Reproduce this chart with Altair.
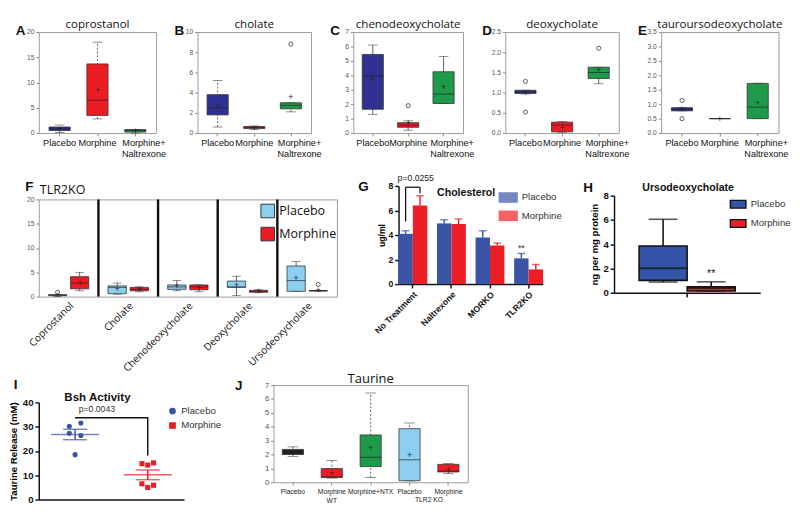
import altair as alt
import pandas as pd

FONT = "Arial"
TFONT = "Open Sans"

# ---------------- Panels A-E ----------------
AE_GROUPS = ["Placebo", "Morphine", "Morphine+\nNaltrexone"]
AE_COLORS = ["#2e3192", "#ed1c24", "#1e9a4a"]

A_Q1 = [0.5, 3.5, 0.2]
A_MED = [0.8, 6.5, 0.5]
A_Q3 = [1.2, 13.7, 0.7]
A_LO = [0.1, 2.8, 0.0]
A_HI = [1.6, 18.0, 0.7]
A_MEAN = [0.8, 8.5, 0.4]
A_OUT_GROUP = []
A_OUT_VALUE = []
A_TICKS = [0, 5, 10, 15, 20]

B_Q1 = [1.8, 0.45, 2.4]
B_MED = [2.5, 0.55, 2.75]
B_Q3 = [3.8, 0.65, 3.0]
B_LO = [0.6, 0.35, 2.1]
B_HI = [5.2, 0.7, 3.0]
B_MEAN = [2.7, 0.5, 3.6]
B_OUT_GROUP = ["Morphine+\nNaltrexone"]
B_OUT_VALUE = [8.8]
B_TICKS = [0, 2, 4, 6, 8, 10]

C_Q1 = [1.65, 0.4, 2.05]
C_MED = [3.95, 0.55, 2.7]
C_Q3 = [5.45, 0.72, 4.25]
C_LO = [1.3, 0.2, 2.05]
C_HI = [6.1, 0.85, 5.3]
C_MEAN = [3.75, 0.7, 3.2]
C_OUT_GROUP = ["Morphine"]
C_OUT_VALUE = [1.9]
C_TICKS = [0, 1, 2, 3, 4, 5, 6, 7]

D_Q1 = [0.98, 0.03, 1.35]
D_MED = [1.02, 0.2, 1.5]
D_Q3 = [1.06, 0.27, 1.63]
D_LO = [0.97, 0.02, 1.22]
D_HI = [1.06, 0.29, 1.63]
D_MEAN = [1.0, 0.13, 1.55]
D_OUT_GROUP = ["Placebo", "Placebo", "Morphine+\nNaltrexone"]
D_OUT_VALUE = [1.28, 0.52, 2.1]
D_TICKS = [0, 0.5, 1.0, 1.5, 2.0, 2.5]

E_Q1 = [0.77, 0.5, 0.5]
E_MED = [0.82, 0.5, 0.9]
E_Q3 = [0.88, 0.5, 1.72]
E_LO = [0.77, 0.5, 0.5]
E_HI = [0.88, 0.5, 1.73]
E_MEAN = [0.82, 0.5, 1.05]
E_OUT_GROUP = ["Placebo", "Placebo"]
E_OUT_VALUE = [1.13, 0.5]
E_TICKS = [0, 0.5, 1.0, 1.5, 2.0, 2.5, 3.0, 3.5]

# ---------------- Panel F ----------------
F_CATS = ["Coprostanol", "Cholate", "Chenodeoxycholate", "Deoxycholate", "Ursodeoxycholate"]
F_TRT = ["Placebo", "Morphine"]
F_COLORS = ["#8dcff0", "#ed1c24"]
# order: for each category -> Placebo, Morphine
F_Q1 = [0.2, 1.6, 0.6, 1.2, 1.5, 1.4, 1.9, 0.9, 1.1, 1.15]
F_MED = [0.3, 2.8, 1.9, 1.5, 2.0, 2.0, 2.0, 1.1, 3.3, 1.2]
F_Q3 = [0.4, 4.1, 2.2, 1.9, 2.4, 2.4, 3.2, 1.3, 6.3, 1.25]
F_LO = [0.0, 1.2, 0.5, 1.0, 1.2, 1.0, 0.2, 0.8, 1.1, 1.15]
F_HI = [0.4, 5.0, 2.8, 2.0, 3.3, 2.4, 4.2, 1.4, 7.2, 1.25]
F_MEAN = [0.3, 2.8, 1.6, 1.5, 2.1, 1.7, 2.3, 1.1, 3.8, 1.3]
F_OUT_CAT = ["Coprostanol", "Ursodeoxycholate"]
F_OUT_TRT = ["Placebo", "Morphine"]
F_OUT_VALUE = [0.9, 2.5]
F_TICKS = [0, 5, 10, 15, 20]

# ---------------- Panel G ----------------
G_CATS = ["No Treatment", "Naltrexone", "MORKO", "TLR2KO"]
G_TRT = ["Placebo", "Morphine"]
G_COLORS = ["#3a55a5", "#ec1f26"]
G_PLACEBO = [4.1, 4.95, 3.8, 2.1]
G_PLACEBO_ERR = [0.25, 0.3, 0.55, 0.4]
G_MORPHINE = [6.4, 4.9, 3.15, 1.2]
G_MORPHINE_ERR = [0.8, 0.4, 0.2, 0.4]
G_BRACKET_CAT = "No Treatment"
G_BRACKET_LEFT = [5.1, 7.9]
G_BRACKET_RIGHT = [7.4, 7.9]
G_P_TEXT = "p=0.0255"
G_P_Y = 8.0
G_STAR_CAT = "TLR2KO"
G_STAR_Y = 2.55
G_TICKS = [0, 2, 4, 6, 8]

# ---------------- Panel H ----------------
H_TRT = ["Placebo", "Morphine"]
H_COLORS = ["#3455a7", "#e8202a"]
H_Q1 = [1.02, 0.15]
H_MED = [2.02, 0.4]
H_Q3 = [3.85, 0.5]
H_LO = [0.88, 0.15]
H_HI = [6.05, 0.9]
H_STAR_Y = 1.1
H_TICKS = [0, 2, 4, 6, 8]

# ---------------- Panel I ----------------
I_GROUPS = ["Placebo", "Morphine"]
I_COLORS = ["#3a53a4", "#ed1c24"]
I_PLACEBO_VALUES = [31.5, 30.2, 27.3, 26.4, 18.5]
I_PLACEBO_COLS = ["R", "L", "L", "R", "C"]
I_MORPHINE_VALUES = [15.1, 14.8, 14.2, 6.5, 5.9, 5.0]
I_MORPHINE_COLS = ["R", "L", "C", "L", "R", "C"]
I_MEAN = [26.8, 10.2]
I_SEM = [2.15, 2.0]
I_BRACKET_GROUP = ["Placebo", "Morphine", "Morphine"]
I_BRACKET_Y = [33.7, 33.7, 18.2]
I_P_TEXT = "p=0.0043"
I_P_Y = 37.2
I_TICKS = [0, 10, 20, 30, 40]

# ---------------- Panel J ----------------
J_GROUPS = ["Placebo WT", "Morphine WT", "Morphine+NTX", "Placebo KO", "Morphine KO"]
J_LABELS = ["Placebo", "Morphine\nWT", "Morphine+NTX", "Placebo", "Morphine"]
J_COLORS = ["#231f20", "#ed1c24", "#1e9a4a", "#8dcff0", "#ed1c24"]
J_Q1 = [2.0, 0.34, 1.13, 0.11, 0.74]
J_MED = [2.2, 0.4, 1.8, 1.62, 0.8]
J_Q3 = [2.37, 0.99, 3.41, 3.86, 1.29]
J_LO = [1.87, 0.3, 0.34, 0.1, 0.62]
J_HI = [2.55, 1.56, 6.43, 4.27, 1.35]
J_MEAN = [2.2, 0.65, 2.48, 1.96, 0.9]
J_GROUP_NOTE = "TLR2 KO"
J_TICKS = [0, 1, 2, 3, 4, 5, 6, 7]

# ---------------- styling (not data) ----------------
NO_STROKE = alt.ViewBackground(stroke="transparent")
AE_H = 105


def text_layer(txt, dx, dy, size=14, weight="bold", font=FONT, align="left", baseline="top",
               color="#111"):
    return alt.Chart(pd.DataFrame({"t": [txt]})).mark_text(
        font=font, fontSize=size, fontWeight=weight, align=align, baseline=baseline, color=color
    ).encode(text="t:N", x=alt.value(dx), y=alt.value(dy))


def box_layers(df, odf, x, off, color, y_scale, y_axis, box_w, cap_w, dash=None,
               line_color="#333", line_w=0.8, med_color="#222", med_w=1.0,
               plus=True, plus_size=9, out_size=18):
    def e(**kw):
        d = {"x": x}
        if off is not None:
            d["xOffset"] = off
        d.update(kw)
        return d

    def Y(f):
        return alt.Y(f, scale=y_scale, axis=y_axis)

    rk = dict(color=line_color, strokeWidth=line_w)
    if dash:
        rk["strokeDash"] = dash
    base = alt.Chart(df)
    layers = [
        base.mark_rule(**rk).encode(**e(y=Y("lo:Q"), y2="hi:Q")),
        base.mark_tick(color=line_color, size=cap_w, thickness=line_w).encode(**e(y=Y("hi:Q"))),
        base.mark_tick(color=line_color, size=cap_w, thickness=line_w).encode(**e(y=Y("lo:Q"))),
        base.mark_bar(size=box_w, stroke=line_color, strokeWidth=line_w).encode(
            **e(y=Y("q1:Q"), y2="q3:Q", color=color)),
        base.mark_tick(color=med_color, size=box_w, thickness=med_w).encode(**e(y=Y("med:Q"))),
    ]
    if plus:
        layers.append(base.mark_text(text="+", fontSize=plus_size, color="#222", baseline="middle",
                                     font=FONT).encode(**e(y=Y("mean:Q"))))
    if odf is not None and len(odf):
        layers.append(alt.Chart(odf).mark_point(shape="circle", filled=False, color=line_color,
                                                size=out_size, strokeWidth=line_w, opacity=1
                                                ).encode(**e(y=Y("v:Q"))))
    return layers


def ae_panel(letter, title, q1, med, q3, lo, hi, mean, out_g, out_v, ticks, fmt, width, dash):
    df = pd.DataFrame({"cat": AE_GROUPS, "q1": q1, "med": med, "q3": q3,
                       "lo": lo, "hi": hi, "mean": mean})
    odf = pd.DataFrame({"cat": out_g, "v": out_v})
    x = alt.X("cat:N", sort=AE_GROUPS, scale=alt.Scale(paddingInner=0, paddingOuter=0.05),
              axis=alt.Axis(title=None, labelAngle=0, labelExpr="split(datum.label, '\\n')",
                            labelFontSize=9.5, labelColor="#111", labelFont=FONT, tickSize=3,
                            tickColor="#888", domain=False, labelPadding=2, labelLineHeight=11,
                            labelOffset={"condition": {"test": "indexof(datum.value, 'Naltrexone') >= 0",
                                                       "value": 9}, "value": 0}))
    ys = alt.Scale(domain=[ticks[0], ticks[-1]], nice=False)
    ya = alt.Axis(title=None, values=ticks, format=fmt, labelFontSize=7, labelColor="#555",
                  tickSize=3, tickColor="#888", domain=False, grid=False, labelOverlap=False)
    color = alt.Color("cat:N", sort=AE_GROUPS, scale=alt.Scale(domain=AE_GROUPS, range=AE_COLORS),
                      legend=None)
    layers = box_layers(df, odf, x, None, color, ys, ya, box_w=22, cap_w=10, dash=dash)
    layers.append(text_layer(letter, -24, -8))
    layers.append(text_layer(title, width / 2, -4, size=12, weight="normal", font=TFONT,
                             align="center", baseline="alphabetic"))
    return alt.layer(*layers).properties(width=width, height=AE_H)


pA = ae_panel("A", "coprostanol", A_Q1, A_MED, A_Q3, A_LO, A_HI, A_MEAN, A_OUT_GROUP, A_OUT_VALUE,
              A_TICKS, "d", 122, [2, 2])
pB = ae_panel("B", "cholate", B_Q1, B_MED, B_Q3, B_LO, B_HI, B_MEAN, B_OUT_GROUP, B_OUT_VALUE,
              B_TICKS, "d", 118, [2, 2])
pC = ae_panel("C", "chenodeoxycholate", C_Q1, C_MED, C_Q3, C_LO, C_HI, C_MEAN, C_OUT_GROUP,
              C_OUT_VALUE, C_TICKS, "d", 114, None)
pD = ae_panel("D", "deoxycholate", D_Q1, D_MED, D_Q3, D_LO, D_HI, D_MEAN, D_OUT_GROUP, D_OUT_VALUE,
              D_TICKS, ".1f", 118, None)
pE = ae_panel("E", "tauroursodeoxycholate", E_Q1, E_MED, E_Q3, E_LO, E_HI, E_MEAN, E_OUT_GROUP,
              E_OUT_VALUE, E_TICKS, ".1f", 122, None)

# ---------------- F ----------------
f_df = pd.DataFrame({"cat": [c for c in F_CATS for _ in F_TRT], "trt": F_TRT * len(F_CATS),
                     "q1": F_Q1, "med": F_MED, "q3": F_Q3, "lo": F_LO, "hi": F_HI, "mean": F_MEAN})
f_odf = pd.DataFrame({"cat": F_OUT_CAT, "trt": F_OUT_TRT, "v": F_OUT_VALUE})


def f_x(bp=None):
    kw = dict(sort=F_CATS, scale=alt.Scale(paddingInner=0, paddingOuter=0),
              axis=alt.Axis(title=None, labelAngle=-45, labelFontSize=10.5, labelFont=TFONT,
                            labelColor="#111", ticks=False, domain=False, labelPadding=4))
    if bp is not None:
        kw["bandPosition"] = bp
    return alt.X("cat:N", **kw)


f_off = alt.XOffset("trt:N", sort=F_TRT, scale=alt.Scale(paddingInner=0, paddingOuter=0.35))
f_color = alt.Color("trt:N", sort=F_TRT, scale=alt.Scale(domain=F_TRT, range=F_COLORS),
                    legend=alt.Legend(title=None, orient="none", legendX=230, legendY=4,
                                      symbolType="square", symbolSize=200, symbolStrokeColor="#333",
                                      symbolStrokeWidth=1, labelFontSize=13, labelFont=TFONT,
                                      labelColor="#111", rowPadding=4))
f_ys = alt.Scale(domain=[0, 20], nice=False)
f_ya = alt.Axis(title=None, values=F_TICKS, labelFontSize=7, labelColor="#555", tickSize=3,
                tickColor="#888", domain=False, grid=False, labelOverlap=False)
f_layers = box_layers(f_df, f_odf, f_x(), f_off, f_color, f_ys, f_ya, box_w=19, cap_w=9)
f_sep = alt.Chart(pd.DataFrame({"cat": F_CATS[1:]})).mark_rule(color="#111", strokeWidth=2.5).encode(
    x=f_x(0))
pF = alt.layer(f_sep, *f_layers, text_layer("F", -14, -20),
               text_layer("TLR2KO", 1, -6, size=13, weight="normal", font=TFONT,
                          baseline="alphabetic")).properties(width=310, height=101)

# ---------------- G ----------------
# the plot band of G sits 14px higher than F's (scale range reaches above the view origin)
G_TOP = -14
G_H = 88
g_df = pd.DataFrame({"cat": G_CATS * 2, "trt": ["Placebo"] * 4 + ["Morphine"] * 4,
                     "val": G_PLACEBO + G_MORPHINE, "err": G_PLACEBO_ERR + G_MORPHINE_ERR})
g_df["top"] = g_df["val"] + g_df["err"]

G_BAR_W = 15
G_SHIFT = [-7.5, 7.5]  # pixel shift of the Placebo / Morphine bar inside a group

g_xaxis = alt.Axis(title=None, labelAngle=-45, labelFontWeight="bold", labelFontSize=9,
                   labelColor="#111", domainColor="#111", domainWidth=1.5,
                   tickColor="#111", tickWidth=1.5, tickSize=4)
g_xscale = alt.Scale(paddingInner=0.26, paddingOuter=0)


def g_x():
    return alt.X("cat:N", sort=G_CATS, scale=g_xscale, axis=g_xaxis)


g_yaxis = alt.Axis(values=G_TICKS, title="ug/ml", titleFontSize=9, titleFontWeight="bold",
                   labelFontWeight="bold", labelFontSize=9, labelColor="#111", grid=False,
                   domainColor="#111", domainWidth=1.5, tickColor="#111", tickWidth=1.5,
                   tickSize=4, titlePadding=2, labelOverlap=False)
g_yscale = alt.Scale(domain=[0, 8], nice=False, range=[G_H, G_TOP])


def g_y(f):
    return alt.Y(f, scale=g_yscale, axis=g_yaxis)


g_color = alt.Color("trt:N", sort=G_TRT, scale=alt.Scale(domain=G_TRT, range=G_COLORS),
                    legend=alt.Legend(title=None, orient="none", legendX=104, legendY=G_TOP + 2,
                                      symbolType="M-1,-0.55H1V0.55H-1Z", symbolSize=400,
                                      symbolStrokeWidth=0, labelFontSize=10, labelColor="#333",
                                      rowPadding=3))
g_layers = []
for t, s in zip(G_TRT, G_SHIFT):
    src = alt.Chart(g_df).transform_filter(alt.datum.trt == t)
    g_layers += [
        src.mark_bar(size=G_BAR_W, xOffset=s).encode(x=g_x(), y=g_y("val:Q"), color=g_color),
        src.mark_rule(strokeWidth=1.5, xOffset=s).encode(x=g_x(), y=g_y("val:Q"), y2="top:Q",
                                                         color=g_color),
        src.mark_tick(size=8, thickness=1.5, xOffset=s).encode(x=g_x(), y=g_y("top:Q"),
                                                               color=g_color),
    ]
g_brdf = pd.DataFrame({"cat": [G_BRACKET_CAT], "l0": [G_BRACKET_LEFT[0]], "l1": [G_BRACKET_LEFT[1]],
                       "r0": [G_BRACKET_RIGHT[0]], "r1": [G_BRACKET_RIGHT[1]]})
g_br_l = alt.Chart(g_brdf).mark_rule(color="#111", strokeWidth=1.3, xOffset=G_SHIFT[0]).encode(
    x=g_x(), y=g_y("l0:Q"), y2="l1:Q")
g_br_r = alt.Chart(g_brdf).mark_rule(color="#111", strokeWidth=1.3, xOffset=G_SHIFT[1]).encode(
    x=g_x(), y=g_y("r0:Q"), y2="r1:Q")
g_br_h = alt.Chart(g_brdf).mark_rule(color="#111", strokeWidth=1.3, xOffset=G_SHIFT[0],
                                     x2Offset=G_SHIFT[1]).encode(
    x=g_x(), x2=alt.X2("cat:N"), y=g_y("l1:Q"))
g_p = alt.Chart(pd.DataFrame({"cat": [G_BRACKET_CAT], "y": [G_P_Y], "t": [G_P_TEXT]})).mark_text(
    fontSize=9, baseline="bottom", dy=-3, dx=3, color="#222").encode(x=g_x(), y=g_y("y:Q"), text="t:N")
g_star = alt.Chart(pd.DataFrame({"cat": [G_STAR_CAT], "y": [G_STAR_Y], "t": ["**"]})).mark_text(
    fontSize=9, baseline="bottom", color="#222", dx=G_SHIFT[0]).encode(x=g_x(), y=g_y("y:Q"),
                                                                       text="t:N")
pG = alt.layer(*g_layers, g_br_l, g_br_r, g_br_h, g_p, g_star,
               text_layer("Cholesterol", 40, G_TOP + 1, size=11),
               text_layer("G", -42, G_TOP - 6)).properties(width=150, height=G_H, view=NO_STROKE)

# ---------------- H ----------------
H_TOP = -4
H_H = 97
h_df = pd.DataFrame({"trt": H_TRT, "q1": H_Q1, "med": H_MED, "q3": H_Q3, "lo": H_LO, "hi": H_HI})
h_xaxis = alt.Axis(title=None, labels=False, ticks=False, domainColor="#111", domainWidth=1.5)
h_xscale = alt.Scale(paddingInner=0, paddingOuter=0.52)


def h_x(bp=None):
    kw = dict(sort=H_TRT, scale=h_xscale, axis=h_xaxis)
    if bp is not None:
        kw["bandPosition"] = bp
    return alt.X("trt:N", **kw)


h_color = alt.Color("trt:N", sort=H_TRT, scale=alt.Scale(domain=H_TRT, range=H_COLORS),
                    legend=alt.Legend(title=None, orient="none", legendX=120, legendY=H_TOP,
                                      symbolType="M-1,-0.5H1V0.5H-1Z", symbolSize=260,
                                      symbolStrokeColor="#111", symbolStrokeWidth=1.5,
                                      labelFontSize=10, labelColor="#333", rowPadding=3))
h_ys = alt.Scale(domain=[0, 8], nice=False, range=[H_H, H_TOP])
h_ya = alt.Axis(values=H_TICKS, title="ng per mg protein", titleFontSize=10, titleFontWeight="bold",
                labelFontWeight="bold", labelFontSize=10, labelColor="#111", grid=False,
                domainColor="#111", domainWidth=1.5, tickColor="#111", tickWidth=1.5, tickSize=4,
                labelOverlap=False)
h_layers = box_layers(h_df, None, h_x(), None, h_color, h_ys, h_ya, box_w=50, cap_w=30,
                      line_color="#111", line_w=1.6, med_color="#111", med_w=2.2, plus=False)
h_star = alt.Chart(pd.DataFrame({"trt": ["Morphine"], "y": [H_STAR_Y], "t": ["**"]})).mark_text(
    fontSize=11, baseline="bottom", color="#222").encode(
    x=h_x(), y=alt.Y("y:Q", scale=h_ys, axis=h_ya), text="t:N")
h_tick = alt.Chart(pd.DataFrame({"trt": ["Morphine"]})).mark_rule(color="#111", strokeWidth=1.5).encode(
    x=h_x(0), y=alt.value(H_H), y2=alt.value(H_H + 5))
pH = alt.layer(*h_layers, h_star, h_tick, text_layer("H", -32, H_TOP - 15),
               text_layer("Ursodeoxycholate", 77, H_TOP - 5, size=11, align="center",
                          baseline="alphabetic")).properties(width=152, height=H_H, view=NO_STROKE)

# ---------------- I ----------------
# plot band of I sits 18px lower than J's
I_TOP = 18
I_H = 119
i_df = pd.DataFrame({"g": ["Placebo"] * len(I_PLACEBO_VALUES) + ["Morphine"] * len(I_MORPHINE_VALUES),
                     "v": I_PLACEBO_VALUES + I_MORPHINE_VALUES,
                     "col": I_PLACEBO_COLS + I_MORPHINE_COLS})
i_mdf = pd.DataFrame({"g": I_GROUPS, "mean": I_MEAN,
                      "lo": [m - s for m, s in zip(I_MEAN, I_SEM)],
                      "hi": [m + s for m, s in zip(I_MEAN, I_SEM)]})

i_xaxis = alt.Axis(title=None, labels=False, ticks=False, domainColor="#111", domainWidth=1.5)
i_xscale = alt.Scale(paddingInner=0, paddingOuter=0)


def i_x(bp=None):
    kw = dict(sort=I_GROUPS, scale=i_xscale, axis=i_xaxis)
    if bp is not None:
        kw["bandPosition"] = bp
    return alt.X("g:N", **kw)


i_yaxis = alt.Axis(values=I_TICKS, title="Taurine Release (mM)", titleFontSize=10,
                   titleFontWeight="bold", labelFontWeight="bold", labelFontSize=10,
                   labelColor="#111", domainColor="#111", domainWidth=1.5, tickColor="#111",
                   tickWidth=1.5, tickSize=4, grid=False, labelOverlap=False)
i_yscale = alt.Scale(domain=[0, 40], nice=False, range=[I_H, I_TOP])


def i_y(f):
    return alt.Y(f, scale=i_yscale, axis=i_yaxis)


i_leg = alt.Legend(title=None, orient="none", legendX=134, legendY=I_TOP + 4, labelFontSize=10,
                   symbolSize=30, labelColor="#333", rowPadding=3)
i_color = alt.Color("g:N", sort=I_GROUPS, scale=alt.Scale(domain=I_GROUPS, range=I_COLORS),
                    legend=i_leg)
i_shape = alt.Shape("g:N", sort=I_GROUPS, scale=alt.Scale(domain=I_GROUPS, range=["circle", "square"]),
                    legend=i_leg)
I_COL_NAMES = ["L", "C", "R"]
I_COL_SHIFT = [-6, 0, 6]
i_pts = [alt.Chart(i_df).transform_filter(alt.datum.col == c).mark_point(
    filled=True, size=28, opacity=1, xOffset=s).encode(x=i_x(), y=i_y("v:Q"), color=i_color,
                                                        shape=i_shape)
    for c, s in zip(I_COL_NAMES, I_COL_SHIFT)]
i_mean = alt.Chart(i_mdf).mark_tick(size=50, thickness=1.5).encode(x=i_x(), y=i_y("mean:Q"),
                                                                    color=i_color)
i_sem = alt.Chart(i_mdf).mark_rule(strokeWidth=1.5).encode(x=i_x(), y=i_y("lo:Q"), y2="hi:Q",
                                                           color=i_color)
i_semhi = alt.Chart(i_mdf).mark_tick(size=25, thickness=1.5).encode(x=i_x(), y=i_y("hi:Q"),
                                                                     color=i_color)
i_semlo = alt.Chart(i_mdf).mark_tick(size=25, thickness=1.5).encode(x=i_x(), y=i_y("lo:Q"),
                                                                     color=i_color)
i_br = alt.Chart(pd.DataFrame({"g": I_BRACKET_GROUP, "y": I_BRACKET_Y,
                               "o": list(range(len(I_BRACKET_Y)))})).mark_line(
    color="#111", strokeWidth=1.5).encode(x=i_x(), y=i_y("y:Q"), order="o:Q")
i_p = alt.Chart(pd.DataFrame({"g": [I_GROUPS[0]], "y": [I_P_Y], "t": [I_P_TEXT]})).mark_text(
    fontSize=9, baseline="middle", color="#333").encode(x=i_x(0.8), y=i_y("y:Q"), text="t:N")
pI = alt.layer(*i_pts, i_mean, i_sem, i_semhi, i_semlo, i_br, i_p,
               text_layer("I", -26, I_TOP - 25),
               text_layer("Bsh Activity", 61, I_TOP - 2, size=12, align="center",
                          baseline="alphabetic")).properties(width=151, height=I_H, view=NO_STROKE)

# ---------------- J ----------------
J_H = 101
j_df = pd.DataFrame({"cat": J_GROUPS, "q1": J_Q1, "med": J_MED, "q3": J_Q3, "lo": J_LO, "hi": J_HI,
                     "mean": J_MEAN})
j_expr = "''"
for g, lab in reversed(list(zip(J_GROUPS, J_LABELS))):
    j_expr = "datum.label == '%s' ? split('%s', '\\n') : (%s)" % (g, lab.replace("\n", "\\n"), j_expr)

j_xaxis = alt.Axis(title=None, labelAngle=0, labelExpr=j_expr, labelFontSize=7,
                   labelColor="#222", tickSize=3, tickColor="#888", domain=False,
                   labelPadding=3, labelLineHeight=9)
j_xscale = alt.Scale(paddingInner=0, paddingOuter=0)


def j_x(bp=None):
    kw = dict(sort=J_GROUPS, scale=j_xscale, axis=j_xaxis)
    if bp is not None:
        kw["bandPosition"] = bp
    return alt.X("cat:N", **kw)


j_color = alt.Color("cat:N", sort=J_GROUPS, scale=alt.Scale(domain=J_GROUPS, range=J_COLORS),
                    legend=None)
j_ys = alt.Scale(domain=[0, 7], nice=False)
j_ya = alt.Axis(title=None, values=J_TICKS, labelFontSize=8, labelColor="#555", tickSize=3,
                tickColor="#888", domain=False, grid=False, labelOverlap=False)
j_layers = box_layers(j_df, None, j_x(), None, j_color, j_ys, j_ya, box_w=22, cap_w=11, dash=[2, 2])
j_note = alt.Chart(pd.DataFrame({"cat": [J_GROUPS[-1]], "t": [J_GROUP_NOTE]})).mark_text(
    fontSize=7, baseline="top", color="#222").encode(x=j_x(0), y=alt.value(J_H + 15), text="t:N")
pJ = alt.layer(*j_layers, j_note, text_layer("J", -40, -6),
               text_layer("Taurine", 101, -2, size=13.5, weight="normal", font=TFONT, align="center",
                          baseline="alphabetic")).properties(width=202, height=J_H)


def indep(c):
    return c.resolve_scale(color="independent", shape="independent").resolve_legend(
        color="independent", shape="independent")


row1 = indep(alt.hconcat(pA, pB, pC, pD, pE, spacing=7))
row2 = indep(alt.hconcat(pF, pG, pH, spacing=20))
row3 = indep(alt.hconcat(pI, pJ, spacing=12))
top = indep(alt.vconcat(row1, row2, spacing=16))
chart = indep(alt.vconcat(top, row3, spacing=-3)).properties(
    padding={"left": 0, "top": 0, "right": 0, "bottom": 0}
).configure(font=FONT).configure_view(stroke="#999", strokeWidth=1).configure_axis(grid=False)

chart.save("out.html", embed_options={"renderer": "svg", "actions": False})
